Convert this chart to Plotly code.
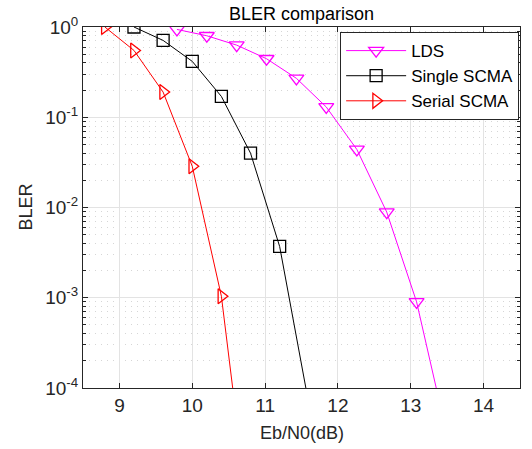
import plotly.graph_objects as go

# ---- data ----
ebn0_lds = [9.79, 10.20, 10.61, 11.02, 11.43, 11.84, 12.26, 12.67, 13.08, 13.49]
bler_lds = [0.94, 0.80, 0.63, 0.445, 0.27, 0.13, 0.044, 0.0089, 0.0009, 3.2e-5]

ebn0_single = [9.2, 9.6, 10.0, 10.4, 10.8, 11.2, 11.6]
bler_single = [1.0, 0.71, 0.416, 0.17, 0.040, 0.0037, 6.7e-5]

ebn0_serial = [8.8, 9.2, 9.6, 10.0, 10.4, 10.8]
bler_serial = [1.0, 0.55, 0.19, 0.0286, 0.00104, 2.5e-6]

x_ticks = [9, 10, 11, 12, 13, 14]
y_tick_exps = [-4, -3, -2, -1, 0]
y_ticks = [10.0 ** e for e in y_tick_exps]
y_tick_text = ["10<sup>%d</sup>" % e for e in y_tick_exps]
y_minor = [k * 10.0 ** e for e in range(-4, 0) for k in range(2, 10)]

FONT = "Liberation Sans, Arial, sans-serif"
AX = "#262626"

FIG_W, FIG_H = 532, 449

fig = go.Figure()
fig.add_trace(go.Scatter(
    x=ebn0_lds, y=bler_lds, name="LDS", mode="lines+markers",
    line=dict(color="#ff00ff", width=1),
    marker=dict(symbol="triangle-down-open", size=13, color="#ff00ff",
                line=dict(width=1.3, color="#ff00ff"))))
fig.add_trace(go.Scatter(
    x=ebn0_single, y=bler_single, name="Single SCMA", mode="lines+markers",
    line=dict(color="#000000", width=1),
    marker=dict(symbol="square-open", size=12, color="#000000",
                line=dict(width=1.3, color="#000000"))))
fig.add_trace(go.Scatter(
    x=ebn0_serial, y=bler_serial, name="Serial SCMA", mode="lines+markers",
    line=dict(color="#ff0000", width=1),
    marker=dict(symbol="triangle-right-open", size=13, color="#ff0000",
                line=dict(width=1.3, color="#ff0000"))))

fig.update_layout(
    width=FIG_W, height=FIG_H,
    margin=dict(l=83, r=12, t=27, b=61, autoexpand=False),
    paper_bgcolor="white", plot_bgcolor="white",
    font=dict(family=FONT, size=19, color=AX),
    title=dict(text="BLER comparison", x=0.5, xref="paper", y=1 - 14 / FIG_H,
               yref="container", xanchor="center", yanchor="middle",
               automargin=False,
               font=dict(family=FONT, size=18, color="#000000")),
    showlegend=True,
    legend=dict(x=0.998, y=0.986, xanchor="right", yanchor="top",
                bgcolor="white", bordercolor=AX, borderwidth=1,
                font=dict(family=FONT, size=17, color="#000000"),
                itemwidth=60, tracegroupgap=0),
    xaxis=dict(range=[8.5, 14.5], tickvals=x_ticks, ticks="inside", ticklen=5,
               automargin=False,
               tickcolor=AX, showline=True, linecolor=AX, linewidth=1, mirror="ticks",
               showgrid=True, gridcolor="#e3e3e3", gridwidth=1, zeroline=False,
               tickfont=dict(family=FONT, size=19, color=AX)),
    yaxis=dict(type="log", range=[-4, 0], tickvals=y_ticks, ticktext=y_tick_text,
               automargin=False,
               ticks="inside", ticklen=5, tickcolor=AX, showline=True, linecolor=AX,
               linewidth=1, mirror="ticks", showgrid=True, gridcolor="#e3e3e3",
               gridwidth=1, zeroline=False,
               tickfont=dict(family=FONT, size=19, color=AX),
               minor=dict(tickvals=y_minor, ticks="inside", ticklen=3, tickcolor=AX,
                          showgrid=True, gridcolor="#d6d6d6", griddash="1px,5px",
                          gridwidth=1)),
    annotations=[
        dict(text="Eb/N0(dB)", x=0.5, xref="paper", y=-(433 - 388) / 361, yref="paper",
             showarrow=False, xanchor="center", yanchor="middle",
             font=dict(family=FONT, size=18, color=AX)),
        dict(text="BLER", x=(25 - 83) / 437, xref="paper", y=0.5, yref="paper",
             showarrow=False, textangle=-90, xanchor="center", yanchor="middle",
             font=dict(family=FONT, size=18, color=AX)),
    ],
)

# remove the page's default 8px body margin so the figure sits at the window corner
fig.write_html("out.html", config={"displayModeBar": False},
               post_script="document.body.style.margin='0';")
